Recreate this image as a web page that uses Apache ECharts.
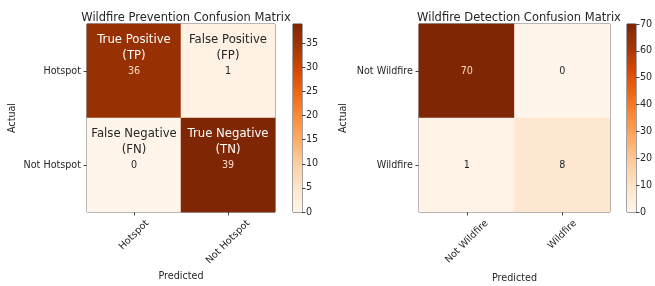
<!DOCTYPE html>
<html><head><meta charset="utf-8">
<script src="https://cdn.jsdelivr.net/npm/echarts@6/dist/echarts.min.js"></script>
<style>html,body{margin:0;padding:0;background:#fff}#c{width:655px;height:286px}</style>
</head><body><div id="c"></div>
<script>
// ---- data ----
const prevTitle = 'Wildfire Prevention Confusion Matrix';
const prevCats = ['Hotspot', 'Not Hotspot'];
// rows = actual, cols = predicted
const prevValues = [[36, 1], [0, 39]];
const prevNotes = [['True Positive', '(TP)', 'False Positive', '(FP)'], ['False Negative', '(FN)', 'True Negative', '(TN)']];
const prevMax = 39;
const prevTicks = 5;

const detTitle = 'Wildfire Detection Confusion Matrix';
const detCats = ['Not Wildfire', 'Wildfire'];
const detValues = [[70, 0], [1, 8]];
const detMax = 70;
const detTicks = 10;

const oranges = ['#fff5eb', '#fee6ce', '#fdd0a2', '#fdae6b', '#fd8d3c', '#f16913', '#d94801', '#a63603', '#7f2704'];

// ---- build ----
const FONT = 'DejaVu Sans';
const FS = 9.6;
const TXT = '#262626';
const SP = '#444';

const ctx = document.createElement('canvas').getContext('2d');
ctx.font = FS + 'px "' + FONT + '"';

function cells(values) {
  const out = [];
  values.forEach((row, r) => row.forEach((v, c) => out.push([c, r, v])));
  return out;
}
function gradient() {
  const n = oranges.length - 1;
  const stops = oranges.map((col, i) => ({ offset: 1 - i / n, color: col })).reverse();
  return new echarts.graphic.LinearGradient(0, 0, 0, 1, stops);
}
function isDark(v, max) { return v / max > 0.5; }

const chart = echarts.init(document.getElementById('c'), null, { renderer: 'canvas' });

const gridBoxes = [
  { left: 87, top: 24, width: 188, height: 188 },
  { left: 293, top: 24, width: 9, height: 188 },
  { left: 419, top: 24, width: 191, height: 188 },
  { left: 627, top: 24, width: 9, height: 188 }
];
const grids = gridBoxes.map(g => Object.assign({ show: true, borderColor: SP, borderWidth: 1, backgroundColor: 'transparent', containLabel: false, outerBoundsMode: 'none' }, g));

function catX(gi, cats, gap) {
  return {
    type: 'category', gridIndex: gi, data: cats, position: 'bottom',
    name: 'Predicted', nameLocation: 'middle', nameGap: gap,
    nameTextStyle: { fontFamily: FONT, fontSize: FS, color: TXT },
    axisLine: { show: false },
    axisTick: { show: true, alignWithLabel: true, length: 3.5, lineStyle: { color: SP } },
    axisLabel: { show: false },
    splitLine: { show: false }
  };
}
function catY(gi, cats, gap) {
  return {
    type: 'category', gridIndex: gi, data: cats, inverse: true,
    name: 'Actual', nameLocation: 'middle', nameGap: gap, nameRotate: 90,
    nameTextStyle: { fontFamily: FONT, fontSize: FS, color: TXT },
    axisLine: { show: false },
    axisTick: { show: true, alignWithLabel: true, length: 3.5, lineStyle: { color: SP } },
    axisLabel: { fontFamily: FONT, fontSize: FS, color: TXT, margin: 6 },
    splitLine: { show: false }
  };
}
function cbX(gi) {
  return { type: 'category', gridIndex: gi, data: [''], show: false };
}
function cbY(gi, max, step) {
  return {
    type: 'value', gridIndex: gi, min: 0, max: max, interval: step, position: 'right',
    axisLine: { show: false },
    axisTick: { show: true, length: 3.5, lineStyle: { color: SP } },
    axisLabel: { fontFamily: FONT, fontSize: FS, color: TXT, margin: 4, showMaxLabel: max % step === 0 },
    splitLine: { show: false }
  };
}

const prevData = cells(prevValues).map(([c, r, v]) => {
  const dark = isDark(v, prevMax);
  const noteCol = dark ? '#ffffff' : TXT;
  const numCol = dark ? '#fbd9c6' : TXT;
  return {
    value: [c, r, v],
    label: {
      formatter: '{a|' + prevNotes[r][c * 2] + '}\n{a|' + prevNotes[r][c * 2 + 1] + '}\n{n|' + v + '}',
      offset: [0, -16],
      rich: {
        a: { fontFamily: FONT, fontSize: 11.7, lineHeight: 16, color: noteCol, align: 'center' },
        n: { fontFamily: FONT, fontSize: FS, lineHeight: 14, color: numCol, align: 'center' }
      }
    }
  };
});
const detData = cells(detValues).map(([c, r, v]) => {
  const dark = isDark(v, detMax);
  return {
    value: [c, r, v],
    label: { formatter: String(v), fontFamily: FONT, fontSize: FS, color: dark ? '#fbd9c6' : TXT }
  };
});

chart.setOption({
  animation: false,
  backgroundColor: '#fff',
  title: [
    { text: prevTitle, left: 181, top: 7, textAlign: 'center', textStyle: { fontFamily: FONT, fontSize: 11.5, fontWeight: 'normal', color: TXT } },
    { text: detTitle, left: 514, top: 7, textAlign: 'center', textStyle: { fontFamily: FONT, fontSize: 11.5, fontWeight: 'normal', color: TXT } }
  ],
  grid: grids,
  xAxis: [catX(0, prevCats, 59), cbX(1), catX(2, detCats, 61), cbX(3)],
  yAxis: [catY(0, prevCats, 70), cbY(1, prevMax, prevTicks), catY(2, detCats, 71), cbY(3, detMax, detTicks)],
  visualMap: [
    { type: 'continuous', show: false, min: 0, max: prevMax, seriesIndex: 0, inRange: { color: oranges } },
    { type: 'continuous', show: false, min: 0, max: detMax, seriesIndex: 2, inRange: { color: oranges } }
  ],
  series: [
    { type: 'heatmap', xAxisIndex: 0, yAxisIndex: 0, data: prevData, label: { show: true }, itemStyle: { borderWidth: 0 } },
    { type: 'bar', xAxisIndex: 1, yAxisIndex: 1, data: [prevMax], barWidth: '100%', itemStyle: { color: gradient() }, silent: true },
    { type: 'heatmap', xAxisIndex: 2, yAxisIndex: 2, data: detData, label: { show: true }, itemStyle: { borderWidth: 0 } },
    { type: 'bar', xAxisIndex: 3, yAxisIndex: 3, data: [detMax], barWidth: '100%', itemStyle: { color: gradient() }, silent: true }
  ]
});

// x tick labels rotated 45deg, bounding box centred under each tick (matplotlib style)
const tickTexts = [];
[[0, prevCats, gridBoxes[0]], [2, detCats, gridBoxes[2]]].forEach(([ai, cats, g]) => {
  const bottom = g.top + g.height;
  cats.forEach(cat => {
    const px = chart.convertToPixel({ xAxisIndex: ai }, cat);
    const w = ctx.measureText(cat).width;
    const h = (w + FS * 0.8) * Math.SQRT1_2;
    tickTexts.push({
      type: 'text', x: px, y: bottom + 7 + h / 2, rotation: Math.PI / 4, silent: true,
      style: { text: cat, font: FS + 'px "' + FONT + '"', fill: TXT, align: 'center', verticalAlign: 'middle' }
    });
  });
});
chart.setOption({ graphic: tickTexts });
</script></body></html>
